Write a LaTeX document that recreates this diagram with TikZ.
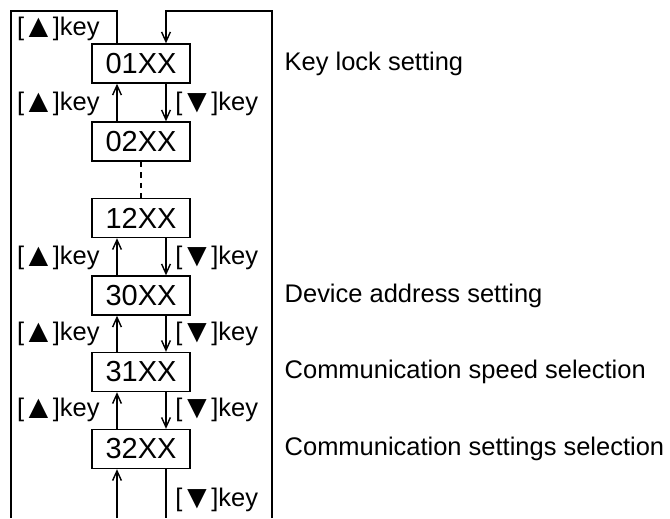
\documentclass[tikz,border=0pt]{standalone}
\usepackage{fontspec}
\usepackage{graphicx}
\setmainfont{Liberation Sans}
\newcommand{\bigtri}[1]{\sbox0{#1}\hspace{1pt}\makebox[\wd0]{\smash{\raisebox{-0.15\ht0}{\scalebox{1.3}{#1}}}}\hspace{1pt}}
\newcommand{\upkey}{[\bigtri{▲}]key}
\newcommand{\dnkey}{[\bigtri{▼}]key}
\usetikzlibrary{arrows.meta}

\begin{document}
\begin{tikzpicture}[x=0.02cm,y=-0.02cm,line width=0.8pt,
  >={Straight Barb[length=5.5pt,width=5pt]},
  modebox/.style={draw,minimum width=1.96cm,minimum height=0.78cm,inner sep=0pt,
    font=\fontsize{16.5}{18}\selectfont},
  keylabel/.style={inner sep=1pt,font=\fontsize{14.5}{16}\selectfont},
  desc/.style={anchor=west,inner sep=0pt,font=\fontsize{14.5}{16}\selectfont}]
\useasboundingbox (0,0) rectangle (670,518);
% mode boxes
\node[modebox] (n01) at (141,63.5) {01XX};
\node[modebox] (n02) at (141,141.5) {02XX};
\node[modebox] (n12) at (141,218) {12XX};
\node[modebox] (n30) at (141,295.5) {30XX};
\node[modebox] (n31) at (141,372) {31XX};
\node[modebox] (n32) at (141,449) {32XX};
% columns and corners
\coordinate (upx) at (117,0);
\coordinate (dnx) at (166,0);
\coordinate (descx) at (284,0);
\coordinate (tl) at (11,11);
\coordinate (bl) at (11,518);
\coordinate (tr) at (272,11);
\coordinate (br) at (272,518);
\coordinate (bu) at (117,518);
\coordinate (bd) at (166,518);
% key arrows
\draw[->] (n02.north -| upx) -- (n01.south -| upx);
\draw[->] (n01.south -| dnx) -- (n02.north -| dnx);
\draw[dashed] (n02) -- (n12);
\draw[->] (n30.north -| upx) -- (n12.south -| upx);
\draw[->] (n12.south -| dnx) -- (n30.north -| dnx);
\draw[->] (n31.north -| upx) -- (n30.south -| upx);
\draw[->] (n30.south -| dnx) -- (n31.north -| dnx);
\draw[->] (n32.north -| upx) -- (n31.south -| upx);
\draw[->] (n31.south -| dnx) -- (n32.north -| dnx);
\draw[->] (bu) -- (n32.south -| upx);
\draw (n32.south -| dnx) -- (bd);
% wrap-around lines
\draw (n01.north -| upx) |- (tl) -- (bl);
\draw[->] (br) -- (tr) -| (n01.north -| dnx);
% key labels
\node[keylabel,anchor=east] (ku0) at (102,29) {\upkey};
\node[keylabel,anchor=east] (ku1) at (102,104) {\upkey};
\node[keylabel,anchor=west] (kd1) at (173,104) {\dnkey};
\node[keylabel,anchor=east] (ku2) at (102,258) {\upkey};
\node[keylabel,anchor=west] (kd2) at (173,258) {\dnkey};
\node[keylabel,anchor=east] (ku3) at (102,334) {\upkey};
\node[keylabel,anchor=west] (kd3) at (173,334) {\dnkey};
\node[keylabel,anchor=east] (ku4) at (102,410) {\upkey};
\node[keylabel,anchor=west] (kd4) at (173,410) {\dnkey};
\node[keylabel,anchor=west] (kd5) at (173,500) {\dnkey};
% descriptions
\node[desc] (d01) at (n01 -| descx) {Key lock setting};
\node[desc] (d30) at (n30 -| descx) {Device address setting};
\node[desc] (d31) at (n31 -| descx) {Communication speed selection};
\node[desc] (d32) at (n32 -| descx) {Communication settings selection};
\end{tikzpicture}
\end{document}
